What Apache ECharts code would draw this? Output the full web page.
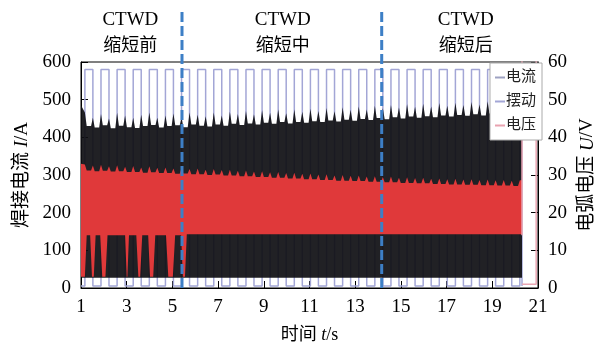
<!DOCTYPE html>
<html><head><meta charset="utf-8">
<script src="https://cdn.jsdelivr.net/npm/echarts@6/dist/echarts.min.js"></script>
<style>html,body{margin:0;padding:0;background:#fff}#c{width:605px;height:349px}</style>
</head><body><div id="c"></div>
<script>
// ---- data ----
const xTicks = [1,3,5,7,9,11,13,15,17,19,21];
const swingRise = [1.17,1.875,2.58,3.285,3.99,4.695,5.40,6.105,6.81,7.515,8.22,8.925,9.63,10.335,11.04,11.745,12.45,13.155,13.86,14.565,15.27,15.975,16.68,17.385,18.09,18.795,19.50,20.205];
const swingFall = [1.52,2.225,2.93,3.635,4.34,5.045,5.75,6.455,7.16,7.865,8.57,9.275,9.98,10.685,11.39,12.095,12.80,13.505,14.21,14.915,15.62,16.325,17.03,17.735,18.44,19.145,19.85,20.30];
const swingLow = 5, swingHigh = 580;
const tStart = 1.0, tEnd = 20.3;
// current upper envelope: value at each swing edge (spike) and between edges (trough)
const curStart = 485;
const curSpike = [466,452,462,450,465,458,452,460,466,452,458,463,452,466,460,456,466,458,468,462,470,461,472,465,474,464,474,468,476,470,478,469,480,473,482,474,484,477,486,479,488,481,489,482,491,484,492,486,494,487,496,489,497,490,498];
const curTrough = [430,426,432,424,431,427,425,430,433,426,430,432,427,434,431,429,434,431,436,433,437,434,439,436,441,437,441,439,443,441,445,442,447,444,449,446,451,448,453,450,455,452,456,453,458,455,459,457,461,458,463,460,464,461,465];
const curLowT = [1.0, 20.3];
const curLowV = [27, 27];
// voltage (right axis) upper envelope
const volStart = 33;
const volSpike = [32.8,32.5,32.7,32.3,32.6,32.2,32.4,32.0,32.3,31.9,32.0,31.7,31.9,31.6,31.7,31.4,31.6,31.3,31.4,31.1,31.2,30.9,31.0,30.7,30.8,30.5,30.6,30.3,30.4,30.1,30.2,29.9,30.0,29.8,29.9,29.6,29.7,29.5,29.6,29.3,29.4,29.2,29.3,29.0,29.1,28.9,29.0,28.8,28.9,28.7,28.8,28.6,28.7,28.5,28.6];
const volTrough = [31.2,31.0,31.1,30.9,31.0,30.8,30.8,30.6,30.7,30.5,30.5,30.3,30.4,30.2,30.2,30.0,30.1,29.9,29.9,29.7,29.7,29.5,29.5,29.3,29.3,29.1,29.1,28.9,28.9,28.7,28.7,28.5,28.5,28.4,28.4,28.2,28.2,28.1,28.1,27.9,27.9,27.8,27.8,27.6,27.6,27.5,27.5,27.4,27.4,27.3,27.3,27.2,27.2,27.1,27.1];
// voltage lower envelope (with short-circuit dips early on)
const volLowT = [1.0,1.17,1.25, 1.40,1.48,1.56,1.64, 1.84,1.93,2.07,2.16, 2.93,3.0,3.03,3.10, 3.42,3.51,3.59,3.68, 3.94,4.02,4.16,4.25, 4.72,4.82,5.02,5.12, 5.38,5.46,5.55,5.63, 20.3];
const volLowV = [3,3,14, 14,3,3,14, 14,3,3,14, 14,3,3,14, 14,3,3,14, 14,3,3,14, 14,3,3,14, 14,3,3,14.3, 14.3];
// voltage after arc end
const volTailT = [20.3, 20.3, 20.92, 20.92, 20.3];
const volTailV = [14, 70, 70, 1, 1];
// dashed phase separators & phase titles
const phaseLines = [5.42, 14.16];
const phaseTitleT = [3.16, 9.83, 17.84];
const phaseTitles = ['缩短前','缩短中','缩短后'];

// ---- build ----
const edges = [];
for (let i = 0; i < swingRise.length; i++) { edges.push(swingRise[i]); if (i < swingFall.length) edges.push(swingFall[i]); }
function envelope(startV, spike, trough, w) {
  const pts = [[tStart, startV]];
  for (let i = 0; i < edges.length && i < spike.length; i++) {
    if (edges[i] >= tEnd) break;
    pts.push([edges[i], spike[i]]);
    const nxt = Math.min(i + 1 < edges.length ? edges[i + 1] : tEnd, tEnd);
    if (nxt - edges[i] > 2 * w) { pts.push([edges[i] + w, trough[i]]); pts.push([nxt - w, trough[i]]); }
  }
  pts.push([tEnd, pts[pts.length - 1][1]]);
  return pts;
}
const curTop = envelope(curStart, curSpike, curTrough, 0.08);
const curBot = curLowT.map((t, i) => [t, curLowV[i]]);
const volTop = envelope(volStart, volSpike, volTrough, 0.08);
const volBot = volLowT.map((t, i) => [t, volLowV[i]]);

const swingData = [[tStart, swingLow]];
for (let i = 0; i < swingRise.length; i++) {
  swingData.push([swingRise[i], swingLow], [swingRise[i], swingHigh]);
  if (i < swingFall.length) swingData.push([swingFall[i], swingHigh], [swingFall[i], swingLow]);
}

function band(name, top, bot, color, yIdx, z, opacity) {
  return {
    type: 'custom', name: name, yAxisIndex: yIdx, z: z, clip: true, silent: true,
    data: top.concat(bot),
    encode: { x: 0, y: 1 },
    renderItem: function (params, api) {
      if (params.dataIndex !== 0) return null;
      const pts = [];
      top.forEach(p => pts.push(api.coord(p)));
      for (let i = bot.length - 1; i >= 0; i--) pts.push(api.coord(bot[i]));
      return { type: 'polygon', shape: { points: pts }, style: { fill: color, opacity: opacity, stroke: null } };
    }
  };
}

const numFont = 'Liberation Serif';
const cjkFont = '"Liberation Serif","Noto Sans CJK SC"';
const chart = echarts.init(document.getElementById('c'), null, { renderer: 'canvas' });
const option = {
  animation: false,
  backgroundColor: '#fff',
  grid: { left: 81, right: 62, top: 62, bottom: 60, show: true, borderColor: '#000', borderWidth: 1, backgroundColor: 'transparent' },
  legend: {
    orient: 'vertical', right: 63, top: 63, backgroundColor: '#fff', borderColor: '#aaa', borderWidth: 1,
    padding: [7, 6, 7, 5], itemGap: 9, itemWidth: 10, itemHeight: 2, icon: 'rect',
    textStyle: { fontFamily: cjkFont, fontSize: 15, color: '#222', padding: [0, 0, 0, -4] },
    data: [
      { name: '电流', itemStyle: { color: '#9ea2c2' } },
      { name: '摆动', itemStyle: { color: '#a3a6d6' } },
      { name: '电压', itemStyle: { color: '#e9a3b0' } }
    ]
  },
  xAxis: {
    type: 'value', min: 1, max: 21, interval: 2,
    name: '时间 {i|t}/s', nameLocation: 'middle', nameGap: 38,
    nameTextStyle: { fontFamily: cjkFont, fontSize: 18, color: '#000', rich: { i: { fontFamily: numFont, fontStyle: 'italic', fontSize: 18 } } },
    axisLine: { lineStyle: { color: '#000', width: 1 } },
    axisTick: { inside: true, length: 7, lineStyle: { color: '#000' } },
    axisLabel: { fontFamily: numFont, fontSize: 19, color: '#000', margin: 10 },
    splitLine: { show: false }
  },
  yAxis: [
    {
      type: 'value', min: 0, max: 600, interval: 100,
      name: '焊接电流 {i|I}/A', nameLocation: 'middle', nameGap: 49, nameRotate: 90,
      nameTextStyle: { fontFamily: cjkFont, fontSize: 19, color: '#000', rich: { i: { fontFamily: numFont, fontStyle: 'italic', fontSize: 19 } } },
      axisLine: { show: true, lineStyle: { color: '#000' } },
      axisTick: { inside: true, length: 7, lineStyle: { color: '#000' } },
      axisLabel: { fontFamily: numFont, fontSize: 19, color: '#000', margin: 10 },
      splitLine: { show: false }
    },
    {
      type: 'value', min: 0, max: 60, interval: 10, position: 'right',
      name: '电弧电压 {i|U}/V', nameLocation: 'middle', nameGap: 40, nameRotate: 90,
      nameTextStyle: { fontFamily: cjkFont, fontSize: 19, color: '#000', rich: { i: { fontFamily: numFont, fontStyle: 'italic', fontSize: 19 } } },
      axisLine: { show: true, lineStyle: { color: '#000' } },
      axisTick: { inside: true, length: 7, lineStyle: { color: '#000' } },
      axisLabel: { fontFamily: numFont, fontSize: 19, color: '#000', margin: 10 },
      splitLine: { show: false }
    }
  ],
  series: [
    { type: 'line', name: '摆动', data: swingData, yAxisIndex: 0, z: 1, showSymbol: false, symbol: 'none',
      lineStyle: { color: '#a3a6d6', width: 1.5 }, itemStyle: { color: '#a3a6d6' } },
    band('电流', curTop, curBot, '#0e0e12', 0, 2, 0.92),
    band('电压', volTop, volBot, '#e0393a', 1, 3, 1),
    { type: 'line', name: '电压', data: volTailT.map((t, i) => [t, volTailV[i]]), yAxisIndex: 1, z: 3, symbol: 'none',
      lineStyle: { color: '#eaa6b2', width: 1.5 }, itemStyle: { color: '#e0393a' } }
  ]
};
chart.setOption(option);

const y0 = chart.convertToPixel({ yAxisIndex: 0 }, 0);
const graphics = [];
phaseLines.forEach(t => {
  const x = chart.convertToPixel({ xAxisIndex: 0 }, t);
  graphics.push({ type: 'line', z: 10, shape: { x1: x, y1: 12, x2: x, y2: y0 },
    style: { stroke: '#3d7fc6', lineWidth: 3, lineDash: [10, 4] } });
});
phaseTitleT.forEach((t, i) => {
  const x = chart.convertToPixel({ xAxisIndex: 0 }, t);
  graphics.push({ type: 'text', z: 10, x: x, y: 20, style: { text: 'CTWD', font: '19px "Liberation Serif"', fill: '#000', align: 'center', verticalAlign: 'middle' } });
  graphics.push({ type: 'text', z: 10, x: x, y: 44, style: { text: phaseTitles[i], font: '18px "Noto Sans CJK SC"', fill: '#000', align: 'center', verticalAlign: 'middle' } });
});
chart.setOption({ graphic: graphics });
</script></body></html>
